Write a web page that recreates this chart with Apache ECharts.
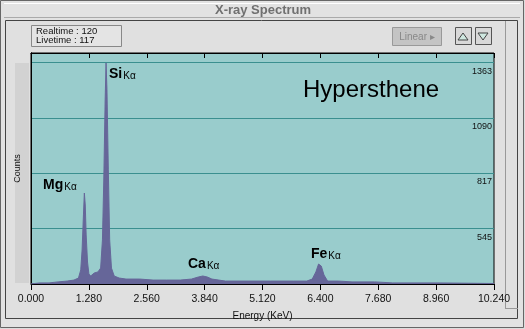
<!DOCTYPE html>
<html><head><meta charset="utf-8">
<script src="https://cdn.jsdelivr.net/npm/echarts@6/dist/echarts.min.js"></script>
<style>html,body{margin:0;padding:0;background:#dcdcdc}#c{width:525px;height:329px}</style>
</head><body><div id="c"></div>
<script>
// Energy (KeV) sample points and counts
const energies = [0.00,0.20,0.40,0.60,0.80,0.95,1.05,1.10,1.13,1.16,1.18,1.20,1.22,1.25,1.28,1.32,1.40,1.48,1.54,1.58,1.61,1.64,1.66,1.68,1.71,1.74,1.78,1.84,1.95,2.10,2.40,2.70,3.00,3.30,3.55,3.70,3.80,3.90,4.00,4.30,4.80,5.30,5.80,6.10,6.22,6.30,6.36,6.42,6.48,6.56,6.80,7.10,7.60,8.00,9.00,10.24];
const counts   = [273,278,278,283,287,292,302,342,440,613,721,662,514,381,322,312,327,332,351,490,785,1180,1362,1230,835,490,351,312,302,297,297,292,292,292,297,307,312,307,297,287,287,287,287,287,297,332,371,361,317,287,287,283,283,278,278,275];
const xTicks = ['0.000','1.280','2.560','3.840','5.120','6.400','7.680','8.960','10.240'];
const yStep = 272.6;
const yMin = 272.6, yMax = 1411;
const title = 'X-ray Spectrum';
const sampleName = 'Hypersthene';
const realtime = 120, livetime = 117;
const peaks = [
  {el:'Si', x:109, y:65},
  {el:'Mg', x:43, y:176},
  {el:'Ca', x:188, y:255},
  {el:'Fe', x:311, y:245}
];

const chart = echarts.init(document.getElementById('c'));
const F = 'Liberation Sans, Arial, sans-serif';
const graphics = [
  {type:'rect', shape:{x:0.5,y:0.5,width:523,height:327}, style:{fill:'#e2e2e2', stroke:'#666', lineWidth:1}, z:-10},
  {type:'line', shape:{x1:4,y1:3.5,x2:520,y2:3.5}, style:{stroke:'#fff', lineWidth:1}, z:-9},
  {type:'line', shape:{x1:4,y1:17.5,x2:520,y2:17.5}, style:{stroke:'#aaa', lineWidth:1}, z:-9},
  {type:'rect', shape:{x:5.5,y:20.5,width:512,height:298}, style:{fill:'#e0e0e0', stroke:'#444', lineWidth:1}, z:-9},
  {type:'line', shape:{x1:505.5,y1:21,x2:505.5,y2:308}, style:{stroke:'#999', lineWidth:1}, z:-8},
  {type:'line', shape:{x1:505,y1:308.5,x2:518,y2:308.5}, style:{stroke:'#999', lineWidth:1}, z:-8},
  {type:'rect', shape:{x:15,y:63,width:14,height:220}, style:{fill:'#d2d2d2'}, z:-8},
  {type:'text', style:{text:title, x:263, y:10, align:'center', verticalAlign:'middle', font:'bold 13px '+F, fill:'#707070'}},
  {type:'rect', shape:{x:31.5,y:25.5,width:90,height:21}, style:{fill:'#e4e4e4', stroke:'#888', lineWidth:1}},
  {type:'text', style:{text:'Realtime : '+realtime, x:36, y:31, verticalAlign:'middle', font:'9.5px '+F, fill:'#111'}},
  {type:'text', style:{text:'Livetime : '+livetime, x:36, y:40, verticalAlign:'middle', font:'9.5px '+F, fill:'#111'}},
  {type:'rect', shape:{x:392.5,y:27.5,width:49,height:18}, style:{fill:'#c4c4c4', stroke:'#999', lineWidth:1}},
  {type:'text', style:{text:'Linear \u25B8', x:417, y:37, align:'center', verticalAlign:'middle', font:'10px '+F, fill:'#888'}},
  {type:'rect', shape:{x:455.5,y:27.5,width:16,height:17}, style:{fill:'#d8d8d8', stroke:'#555', lineWidth:1}},
  {type:'rect', shape:{x:475.5,y:27.5,width:16,height:17}, style:{fill:'#d8d8d8', stroke:'#555', lineWidth:1}},
  {type:'polygon', shape:{points:[[458,40],[468,40],[463,33]]}, style:{fill:'#cfe8e0', stroke:'#444', lineWidth:1}},
  {type:'polygon', shape:{points:[[478,33],[488,33],[483,40]]}, style:{fill:'#cfe8e0', stroke:'#444', lineWidth:1}},
  {type:'text', style:{text:sampleName, x:303, y:90, verticalAlign:'middle', font:'24px '+F, fill:'#000'}}
];
peaks.forEach(p => graphics.push({type:'text', style:{
  text:'{a|'+p.el+'}{b|K\u03B1}', x:p.x, y:p.y,
  rich:{a:{font:'bold 14px '+F, fill:'#000', verticalAlign:'bottom'}, b:{font:'10px '+F, fill:'#000', padding:[6,0,0,1], verticalAlign:'bottom'}}
}}));

chart.setOption({
  animation:false,
  backgroundColor:'transparent',
  grid:{left:31, right:31, top:53, bottom:45, show:true, backgroundColor:'#99cccc', borderColor:'#000', borderWidth:1},
  xAxis:[{
    type:'value', min:0, max:10.24, interval:1.28,
    name:'Energy (KeV)', nameLocation:'middle', nameGap:27,
    nameTextStyle:{fontFamily:F, fontSize:10, color:'#111'},
    axisLine:{show:true, lineStyle:{color:'#000'}},
    axisTick:{show:true, length:6, lineStyle:{color:'#000'}},
    axisLabel:{fontFamily:F, fontSize:10.5, color:'#111', margin:10, formatter:(v,i)=>xTicks[i]},
    splitLine:{show:false}
  },{
    type:'value', min:0, max:10.24, interval:1.28, position:'top',
    axisLine:{show:true, lineStyle:{color:'#000'}},
    axisTick:{show:true, inside:true, length:5, lineStyle:{color:'#000'}},
    axisLabel:{show:false}, splitLine:{show:false}
  }],
  yAxis:[{
    type:'value', min:yMin, max:yMax, interval:yStep, position:'right',
    axisLine:{show:true, lineStyle:{color:'#000'}},
    axisTick:{show:false},
    axisLabel:{inside:true, showMaxLabel:false, fontFamily:F, fontSize:9, color:'#111', verticalAlign:'top', margin:2, padding:[4,0,0,0],
      formatter:v => ((v < 400 || v > 1400) ? '' : String(Math.floor(v + 0.01)))},
    splitLine:{show:true, lineStyle:{color:'#3a8f8f', width:1}}
  },{
    type:'value', min:yMin, max:yMax, interval:yStep, position:'left',
    name:'Counts', nameLocation:'middle', nameGap:9,
    nameTextStyle:{fontFamily:F, fontSize:9, color:'#111'},
    axisLine:{show:true, lineStyle:{color:'#000'}},
    axisTick:{show:false}, axisLabel:{show:false}, splitLine:{show:false}
  }],
  series:[{
    type:'line', xAxisIndex:0, yAxisIndex:0,
    data: energies.map((e,i)=>[e, counts[i]]),
    showSymbol:false, symbol:'none',
    lineStyle:{color:'#666699', width:1},
    areaStyle:{color:'#666699', opacity:1, origin:'start'},
    z:3
  }],
  graphic: graphics
});
</script></body></html>
